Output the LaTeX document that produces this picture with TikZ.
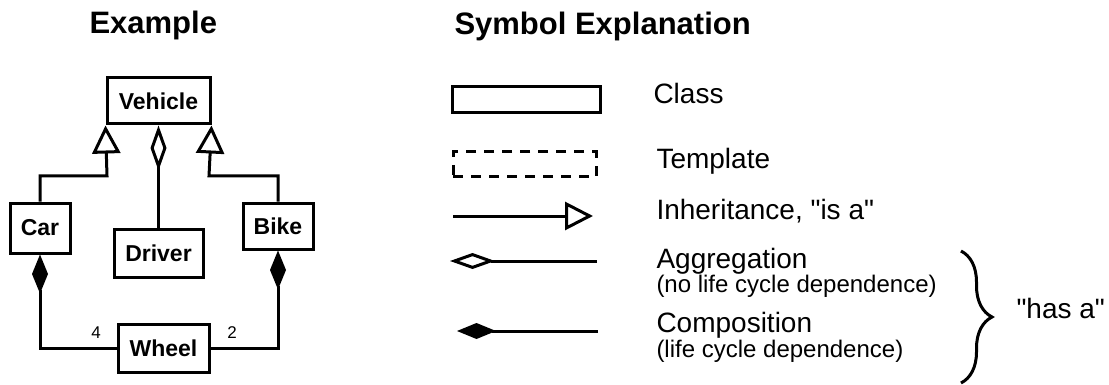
\documentclass[tikz,border=0pt]{standalone}
\usepackage{fontspec}
\setmainfont{Liberation Sans}
\usetikzlibrary{arrows.meta,decorations.pathreplacing}

\begin{document}
\begin{tikzpicture}[
    x=1pt, y=-1pt,
    line width=3,
    cls/.style={
        rectangle,draw,line width=3,
        minimum height=46,
        inner sep=0,
        font=\fontsize{23}{27}\selectfont\bfseries
    },
    title/.style={anchor=base west,inner sep=0,font=\fontsize{31}{36}\selectfont\bfseries},
    lbl/.style={anchor=base west,inner sep=0,font=\fontsize{28}{32}\selectfont},
    sublbl/.style={anchor=base west,inner sep=0,font=\fontsize{24}{28}\selectfont},
    mult/.style={font=\fontsize{17}{19}\selectfont},
    inherit/.style={-{Triangle[open,length=28,width=28]}},
    aggreg/.style={-{Diamond[open,length=45,width=16]}},
    compos/.style={-{Diamond[length=39,width=16]}}
]
\useasboundingbox (0,0) rectangle (1109,385);

% headings
\node[title] (extitle) at (88,34) {Example};
\node[title] (symtitle) at (453,35) {Symbol Explanation};

% example classes
\node[cls, minimum width=103] (vehicle) at (158.5,101) {Vehicle};
\node[cls, minimum width=60, minimum height=50] (car) at (40,228) {Car};
\node[cls, minimum width=89, minimum height=48] (driver) at (158.5,253) {Driver};
\node[cls, minimum width=70] (bike) at (278,226) {Bike};
\node[cls, minimum width=91, minimum height=48] (wheel) at (163.5,348) {Wheel};

\coordinate (lbend) at (107,176);
\coordinate (rbend) at (209,176);

\draw[inherit] (car.north) |- (lbend) -- (vehicle.south west);
\draw[inherit] (bike.north) |- (rbend) -- (vehicle.south east);
\draw[aggreg] (driver.north) -- (vehicle.south);
\draw[compos] (wheel.west) -| (car.south);
\draw[compos] (wheel.east) -| (bike.south);

\node[mult] (four) at (96,333) {4};
\node[mult] (two) at (232,333) {2};

% legend symbols
\node[cls, minimum width=148, minimum height=26] (classsym) at (526,100) {};
\node[cls, dash pattern=on 10 off 8, minimum width=143, minimum height=25] (tmplsym) at (524.5,164.5) {};

\coordinate (inhA) at (453,216);
\coordinate (inhB) at (593,216);
\draw[inherit] (inhA) -- (inhB);

\coordinate (aggA) at (597,261);
\coordinate (aggB) at (450,261);
\draw[aggreg] (aggA) -- (aggB);

\coordinate (comA) at (598,331);
\coordinate (comB) at (457,331);
\draw[compos] (comA) -- (comB);

% legend texts
\node[lbl] (classtxt) at (652,104) {Class};
\node[lbl] (tmpltxt) at (655,168) {Template};
\node[lbl] (inhtxt) at (655,219) {Inheritance, \textquotedbl is a\textquotedbl};
\node[lbl] (aggtxt) at (655,268) {Aggregation};
\node[sublbl] (aggsub) at (655,292) {(no life cycle dependence)};
\node[lbl] (comtxt) at (655,332) {Composition};
\node[sublbl] (comsub) at (655,357) {(life cycle dependence)};

% brace for the two "has a" relations
\coordinate (brtop) at (961,251);
\coordinate (brbot) at (961,383);
\draw[decorate,decoration={brace,amplitude=31}] (brtop) -- (brbot);
\node[lbl] (hasa) at (1015,318) {\textquotedbl has a\textquotedbl};
\end{tikzpicture}
\end{document}
